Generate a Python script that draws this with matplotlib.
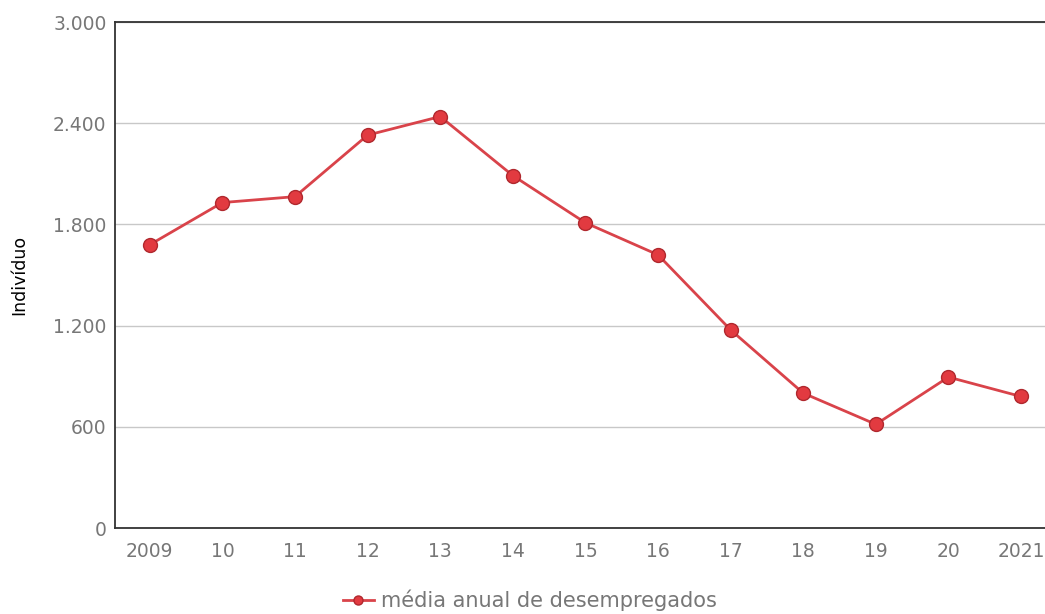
import matplotlib
matplotlib.use("Agg")
import matplotlib.pyplot as plt
from matplotlib.ticker import FuncFormatter

anos = ["2009", "10", "11", "12", "13", "14", "15", "16", "17", "18", "19", "20", "2021"]
desempregados = [1680, 1930, 1965, 2330, 2440, 2090, 1810, 1620, 1175, 800, 615, 895, 780]
y_ticks = [0, 600, 1200, 1800, 2400, 3000]

plt.rcParams['font.family'] = ['DejaVu Sans']

fig = plt.figure(figsize=(10.45, 6.14), dpi=100)
ax = fig.add_axes([0.110, 0.140, 0.89, 0.824])

x = list(range(len(anos)))
ax.plot(x, desempregados, color='#d9434a', lw=2, marker='o', markersize=10,
        markerfacecolor='#e23a40', markeredgecolor='#b0282e', markeredgewidth=1,
        label='média anual de desempregados', zorder=3)

ax.set_ylim(0, 3000)
ax.set_xlim(-0.48, 12.33)
ax.set_yticks(y_ticks)
ax.yaxis.set_major_formatter(FuncFormatter(lambda v, p: f"{int(v):,}".replace(",", ".")))
ax.set_xticks(x)
ax.set_xticklabels(anos)
ax.grid(axis='y', color='#c8c8c8', lw=1)
ax.set_axisbelow(True)

for s in ['left', 'bottom', 'top']:
    ax.spines[s].set_color('#333333')
    ax.spines[s].set_linewidth(1.3)
ax.spines['right'].set_visible(False)

ax.tick_params(length=0, labelsize=13.5, colors='#777777')
ax.tick_params(axis='y', pad=6)
ax.tick_params(axis='x', pad=10)
ax.set_ylabel('Indivíduo', fontsize=12.5, color='black', labelpad=18)

leg = fig.legend(loc='center', bbox_to_anchor=(0.507, 0.022), frameon=False,
                 fontsize=15, handlelength=1.5, handletextpad=0.35, markerscale=0.65,
                 borderpad=0)
for t in leg.get_texts():
    t.set_color('#777777')

fig.savefig('out.png', dpi=100)
